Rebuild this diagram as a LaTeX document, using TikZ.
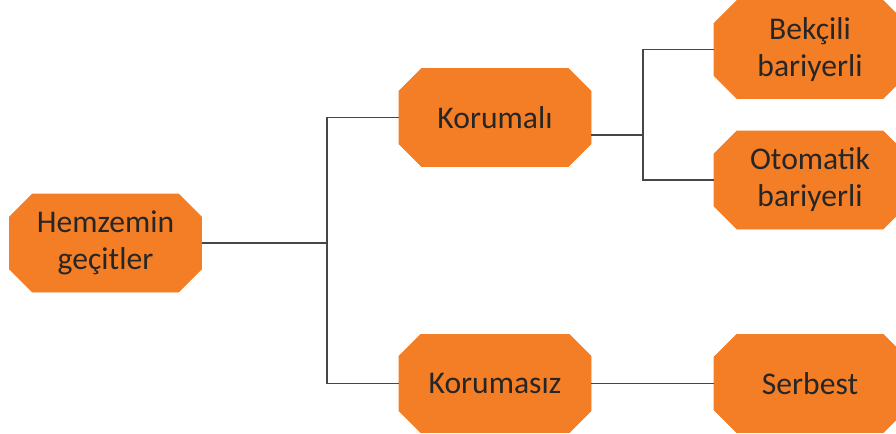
\documentclass[tikz,border=0pt]{standalone}
\usepackage{fontspec}
\setmainfont{Carlito}
\usepackage{tikz}
\usetikzlibrary{shapes.misc}

\definecolor{gecitorange}{RGB}{244,126,38}
\definecolor{gecitline}{RGB}{70,70,70}

\tikzset{
	kutu/.style={chamfered rectangle, chamfered rectangle xsep=5.75pt, chamfered rectangle ysep=5.75pt,
		fill=gecitorange, draw=gecitorange, minimum width=96pt, minimum height=49pt, inner sep=0pt,
		align=center, text=black!85, font=\fontsize{15.8}{18.5}\selectfont},
	baglanti/.style={draw=gecitline, line width=0.55pt}
}

\begin{document}
\begin{tikzpicture}[x=0.5pt, y=-0.5pt]
				\useasboundingbox (0,0) rectangle (896,434);
				\clip (0,0) rectangle (896,434);
				
				% Left root
				\node[kutu] (hem) at (105.5,243) {Hemzemin\\geçitler};
				
				% Middle column
				\node[kutu] (kml) at (495,117.5) {Korumalı};
				\node[kutu] (kms) at (495,383.5) {Korumasız};
				
				% Right column
				\node[kutu] (bek) at (810,49.5) {Bekçili\\bariyerli};
				\node[kutu] (oto) at (810,180) {Otomatik\\bariyerli};
				\node[kutu] (srb) at (810,383.5) {Serbest};
				
				% Connectors
				\coordinate (jA) at (327,243);
				\coordinate (jB) at (643,135);
				\draw[baglanti] (hem.east) -- (jA);
				\draw[baglanti] (kml.west) -| (jA) |- (kms.west);
				\draw[baglanti] (kml.east |- jB) -- (jB);
				\draw[baglanti] (bek.west) -| (jB) |- (oto.west);
				\draw[baglanti] (kms.east) -- (srb.west);
			\end{tikzpicture}
\end{document}
